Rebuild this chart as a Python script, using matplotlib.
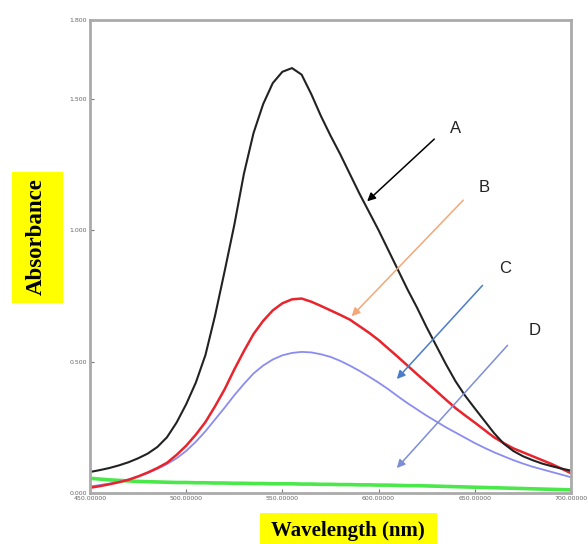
import numpy as np
import matplotlib; matplotlib.use("Agg"); import matplotlib.pyplot as plt
from matplotlib.patches import Rectangle

# wavelength grid (nm) and absorbance
wl = list(range(450, 701, 5))
abs_a = [0.080, 0.087, 0.095, 0.105, 0.117, 0.132, 0.150, 0.175, 0.212, 0.268, 0.338,
         0.420, 0.525, 0.675, 0.845, 1.020, 1.215, 1.370, 1.480, 1.560, 1.603, 1.617, 1.592,
         1.518, 1.435, 1.360, 1.290, 1.215, 1.140, 1.070, 1.000, 0.925, 0.850, 0.775, 0.705,
         0.630, 0.560, 0.490, 0.425, 0.370, 0.322, 0.275, 0.228, 0.188, 0.160, 0.140, 0.125,
         0.112, 0.102, 0.093, 0.085]
abs_b = [0.020, 0.026, 0.033, 0.041, 0.050, 0.063, 0.078, 0.095, 0.115, 0.145, 0.180,
         0.222, 0.270, 0.330, 0.395, 0.470, 0.540, 0.605, 0.655, 0.695, 0.722, 0.737, 0.740,
         0.728, 0.712, 0.695, 0.678, 0.660, 0.635, 0.610, 0.582, 0.550, 0.518, 0.485, 0.452,
         0.420, 0.388, 0.355, 0.323, 0.295, 0.268, 0.240, 0.212, 0.190, 0.170, 0.155, 0.140,
         0.125, 0.110, 0.093, 0.075]
abs_c = [0.025, 0.030, 0.036, 0.043, 0.052, 0.063, 0.076, 0.092, 0.110, 0.132, 0.160,
         0.195, 0.235, 0.280, 0.325, 0.372, 0.415, 0.455, 0.485, 0.508, 0.524, 0.533, 0.537,
         0.535, 0.528, 0.518, 0.503, 0.485, 0.465, 0.443, 0.420, 0.395, 0.368, 0.342, 0.318,
         0.294, 0.272, 0.250, 0.230, 0.210, 0.190, 0.172, 0.155, 0.140, 0.125, 0.112, 0.100,
         0.090, 0.080, 0.070, 0.060]
abs_d = [0.056, 0.053, 0.050, 0.048, 0.046, 0.044, 0.043, 0.042, 0.041, 0.040, 0.040,
         0.039, 0.039, 0.038, 0.038, 0.037, 0.037, 0.036, 0.036, 0.035, 0.035, 0.035, 0.034,
         0.034, 0.033, 0.033, 0.032, 0.032, 0.031, 0.031, 0.030, 0.030, 0.029, 0.028, 0.028,
         0.027, 0.026, 0.025, 0.024, 0.023, 0.022, 0.021, 0.020, 0.019, 0.018, 0.017, 0.016,
         0.015, 0.014, 0.013, 0.012]

x_ticks = [450, 500, 550, 600, 650, 700]
y_ticks = [0.0, 0.5, 1.0, 1.5, 1.8]

# labelled arrows: (label, tail, head, label pos, colour)
arrows = [("A", (630, 1.354), (593, 1.103), (640, 1.388), "black"),
          ("B", (645, 1.122), (585, 0.665), (655, 1.163), "#f2a878"),
          ("C", (655, 0.798), (608.5, 0.426), (666, 0.856), "#4a7cc8"),
          ("D", (668, 0.570), (608.5, 0.087), (681, 0.620), "#7d8ed6")]

W, H = 588, 544
fig = plt.figure(figsize=(W/100, H/100), dpi=100)
ax = fig.add_axes([90/W, 51/H, 481/W, 473/H])

line_kw = dict(solid_joinstyle="round", solid_capstyle="round")
ax.plot(wl, abs_d, color="#4be84b", lw=2.6, **line_kw)
ax.plot(wl, abs_c, color="#8a8cf0", lw=1.3, **line_kw)
ax.plot(wl, abs_b, color="#e8242c", lw=1.8, **line_kw)
ax.plot(wl, abs_a, color="#222222", lw=1.5, **line_kw)

for lab, tail, head, pos, col in arrows:
    ax.annotate("", xy=head, xytext=tail,
                arrowprops=dict(arrowstyle="-|>", color=col, lw=1.1, mutation_scale=12))
    ax.text(pos[0], pos[1], lab, fontsize=12, color="#222222", ha="center", va="center",
            family="Liberation Sans")

ax.set_xlim(450, 700); ax.set_ylim(0, 1.8)
ax.set_xticks(x_ticks); ax.set_yticks(y_ticks)
ax.set_xticklabels([f"{v:.5f}" for v in x_ticks])
ax.set_yticklabels([f"{v:.3f}" for v in y_ticks])
ax.tick_params(direction="in", length=3, width=0.8, color="#777777", labelsize=4.5,
               labelcolor="#666666", pad=2)
for s in ax.spines.values():
    s.set_color("#aaaaaa"); s.set_linewidth(2)

# yellow label boxes (pixel positions from the top-left)
for x0, y0, x1, y1 in [(12, 172, 63, 303), (260, 513, 437, 544)]:
    fig.patches.append(Rectangle((x0/W, 1-y1/H), (x1-x0)/W, (y1-y0)/H, transform=fig.transFigure,
                                 facecolor="#ffff00", edgecolor="none", zorder=0))
fig.text(36/W, 1-237/H, "Absorbance", rotation=90, ha="center", va="center",
         family="Liberation Serif", fontweight="bold", fontsize=16.5)
fig.text(348/W, 1-531/H, "Wavelength (nm)", ha="center", va="center",
         family="Liberation Serif", fontweight="bold", fontsize=15)

fig.savefig("out.png", dpi=100)
